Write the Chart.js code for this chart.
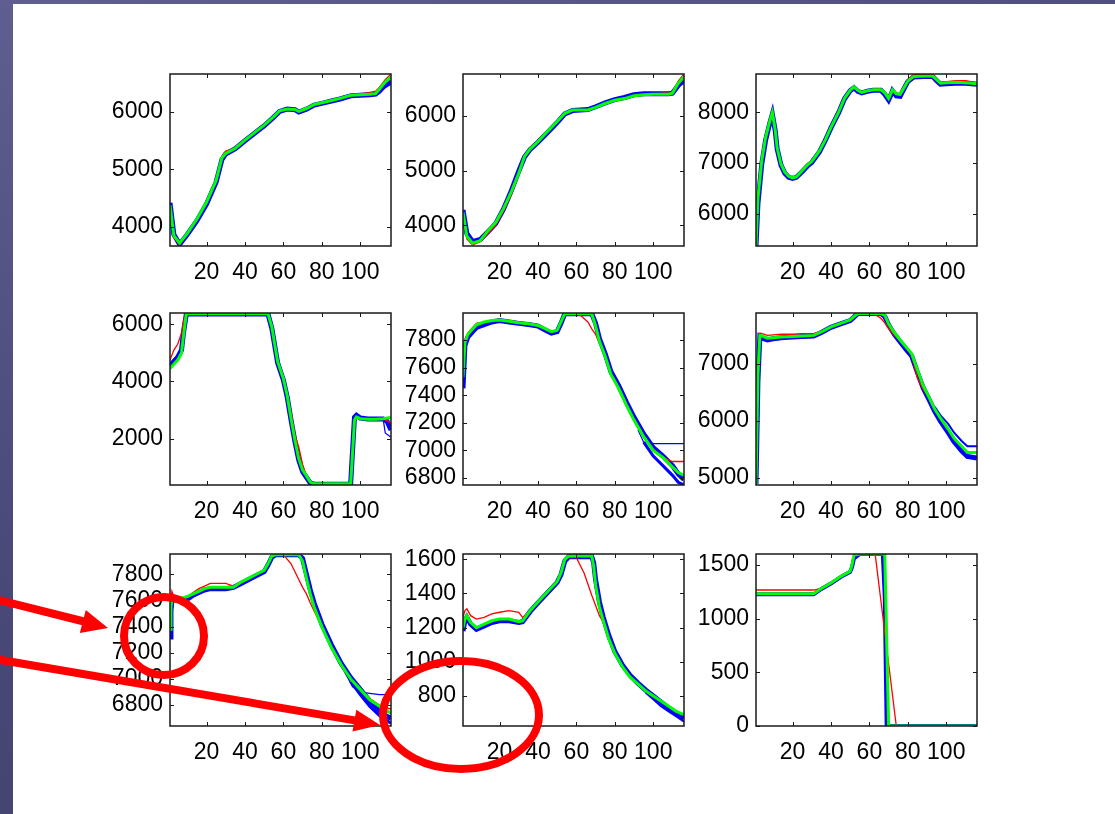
<!DOCTYPE html>
<html>
<head>
<meta charset="utf-8">
<script src="https://cdn.jsdelivr.net/npm/chart.js@4.4.0/dist/chart.umd.min.js"></script>
<style>
html, body { margin: 0; padding: 0; width: 1115px; height: 814px; overflow: hidden; }
body { position: relative; background: linear-gradient(160deg, #605e90 0%, #4b4979 45%, #3e3c64 100%); }
#sheet { position: absolute; left: 13px; top: 4px; right: 0; bottom: 0; background: #fff; }
canvas.plot { position: absolute; }
#marks { position: absolute; left: 0; top: 0; }
</style>
</head>
<body>
<div id="sheet"></div>
<svg id="marks" width="1115" height="814">
  <g stroke="#ff0000" fill="none" stroke-width="8">
    <ellipse cx="164" cy="636" rx="40" ry="39"/>
    <ellipse cx="461" cy="715" rx="78" ry="54"/>
    <line x1="-5" y1="599" x2="84" y2="621.5"/>
    <line x1="-5" y1="659" x2="356" y2="720.6"/>
  </g>
  <polygon fill="#ff0000" points="108,628 79.8,633.1 85.8,609.9"/>
  <polygon fill="#ff0000" points="380,725 352.5,731.4 356.3,709.8"/>
</svg>
<script>
// x ticks shared by every panel
var xTicks = [20, 40, 60, 80, 100];

// panel 1
var p1x = [1,3,6,10,15,20,25,28,30,35,40,45,50,55,58,62,66,68,72,76,80,85,90,95,100,105,108,110,113,116];
var p1blue = [4420,3870,3700,3870,4110,4400,4780,5170,5270,5360,5500,5630,5760,5910,6010,6050,6040,6000,6050,6120,6150,6190,6230,6280,6290,6300,6310,6360,6470,6540];
var p1red = [4350,3820,3690,3880,4150,4450,4840,5230,5320,5370,5500,5640,5770,5920,6020,6050,6050,6020,6070,6140,6170,6210,6250,6300,6310,6340,6360,6430,6560,6660];
var p1green = [4380,3850,3720,3890,4140,4430,4810,5200,5280,5370,5510,5640,5770,5920,6020,6050,6045,6010,6060,6130,6160,6200,6240,6290,6300,6310,6320,6400,6520,6610];
var p1blue2x = [90,95,100,105,108,110,113,116];
var p1blue2 = [6260,6310,6320,6330,6330,6350,6420,6480];
var p1yTicks = [4000, 5000, 6000];

// panel 2
var p2x = [1,3,6,10,14,18,22,26,30,33,36,40,45,50,54,58,62,66,70,75,80,85,90,95,100,105,108,110,113,116];
var p2blue = [4280,3850,3700,3740,3880,4030,4290,4620,4990,5250,5390,5520,5700,5880,6040,6100,6110,6120,6170,6240,6300,6340,6390,6410,6410,6410,6410,6420,6560,6650];
var p2red = [4200,3750,3640,3700,3850,4000,4250,4550,4920,5250,5420,5540,5720,5900,6050,6110,6110,6110,6160,6230,6280,6310,6360,6380,6400,6420,6420,6450,6640,6770];
var p2green = [4240,3800,3670,3720,3900,4050,4300,4600,4950,5260,5400,5530,5720,5900,6050,6110,6110,6110,6160,6230,6290,6320,6370,6390,6400,6400,6400,6420,6600,6720];
var p2yTicks = [4000, 5000, 6000];

// panel 3
var p3x = [1,2,4,6,8,9.5,11,12,14,16,18,20,22,25,28,30,34,37,40,44,47,50,52,54,56,59,62,66,68,70,71,72,74,76,78,80,83,88,93,95,97,100,105,110,116];
var p3blue = [5370,6200,6980,7450,7760,7960,7640,7280,6960,6800,6720,6700,6720,6830,6950,7010,7220,7440,7690,7990,8260,8420,8480,8410,8380,8410,8430,8430,8350,8240,8320,8420,8320,8310,8460,8600,8690,8700,8700,8620,8550,8560,8570,8570,8550];
var p3red = [5370,6350,7100,7550,7850,8030,7680,7320,7000,6830,6750,6720,6740,6860,6990,7050,7260,7460,7710,8010,8280,8440,8500,8440,8400,8430,8450,8450,8400,8300,8380,8450,8380,8370,8500,8640,8740,8750,8740,8660,8590,8600,8620,8620,8580];
var p3green = [5370,6300,7050,7500,7800,7990,7650,7300,6980,6820,6740,6710,6730,6850,6970,7030,7240,7450,7700,8000,8270,8430,8500,8430,8390,8420,8440,8440,8380,8270,8350,8440,8360,8350,8480,8610,8700,8710,8710,8640,8570,8580,8590,8580,8560];
var p3yTicks = [6000, 7000, 8000];

// panel 4
var p4x = [1,3,5,7,8,9.5,15,20,30,40,50,52,54,57,60,62,64,66,68,70,72,74,76,80,85,90,95,96,97,98,100,104,108,112,114,116];
var p4blue = [4550,4700,4850,5100,5700,6360,6360,6360,6360,6360,6360,6360,5850,4650,4050,3450,2650,1900,1250,850,650,450,410,410,410,410,410,1600,2750,2820,2720,2690,2690,2690,2600,2300];
var p4red = [4750,5100,5300,5700,6100,6380,6380,6380,6380,6380,6380,6380,5950,4750,4150,3600,2900,2150,1700,1100,700,480,420,420,420,420,420,1450,2600,2720,2690,2680,2690,2690,2620,2550];
var p4green = [4450,4600,4750,5000,5600,6370,6370,6370,6370,6370,6370,6370,5900,4700,4100,3500,2700,1950,1300,900,700,480,420,420,420,420,420,1500,2650,2760,2700,2680,2680,2700,2720,2740];
var p4blue2x = [100,104,108,112,113,116];
var p4blue2 = [2720,2700,2700,2650,2200,2050];
var p4yTicks = [2000, 4000, 6000];

// panel 5
var p5x = [1,2,3.5,6,8,12,16,20,25,30,36,40,44,47,50,52,54,58,62,66,68,70,72,75,78,82,86,90,95,100,105,110,113,116];
var p5blue = [7450,7760,7820,7860,7890,7910,7930,7940,7930,7920,7910,7900,7870,7850,7860,7920,7990,7990,7990,7990,7990,7920,7810,7700,7570,7470,7350,7240,7120,7020,6960,6890,6830,6790];
var p5red = [7600,7800,7850,7890,7920,7930,7940,7950,7940,7930,7920,7905,7880,7860,7870,7930,7990,7990,7980,7930,7880,7840,7780,7690,7560,7460,7340,7230,7110,7010,6950,6920,6920,6920];
var p5green = [7530,7780,7840,7880,7910,7930,7940,7945,7935,7925,7915,7905,7880,7860,7870,7930,7990,7990,7990,7990,7990,7900,7790,7680,7550,7450,7330,7220,7100,7000,6950,6880,6840,6820];
var p5blue2x = [92,95,100,105,110,116];
var p5blue2 = [7150,7060,7050,7050,7050,7050];
var p5blue3x = [95,100,105,110,113,116];
var p5blue3 = [7060,6960,6890,6820,6770,6750];
var p5yTicks = [6800, 7000, 7200, 7400, 7600, 7800];

// panel 6
var p6x = [1,2,3,5,7,10,14,20,25,31,35,40,45,50,52,54,58,62,66,68,70,73,76,79,82,85,88,91,94,97,101,104,108,111,116];
var p6blue = [4900,6700,7480,7440,7420,7440,7460,7470,7480,7490,7550,7640,7700,7760,7820,7885,7885,7885,7885,7830,7680,7520,7390,7260,7140,6850,6580,6380,6170,6000,5800,5640,5480,5380,5350];
var p6red = [4880,6900,7540,7520,7500,7510,7520,7520,7530,7530,7570,7650,7710,7770,7830,7885,7885,7885,7800,7720,7620,7500,7400,7280,7150,6750,6560,6400,6200,6040,5860,5700,5560,5460,5450];
var p6green = [4900,6800,7500,7480,7450,7460,7470,7480,7490,7500,7560,7650,7710,7770,7830,7885,7885,7885,7885,7850,7700,7550,7420,7300,7180,6900,6620,6420,6210,6050,5860,5700,5560,5450,5450];
var p6blue2x = [94,97,101,104,108,111,116];
var p6blue2 = [6250,6100,5950,5800,5650,5560,5560];
var p6yTicks = [5000, 6000, 7000];

// panel 7
var p7x = [1,1.5,2,3,5,8,10,13,16,19,22,26,30,34,38,42,46,50,52,54,56,60,64,68,70,72,74,76,80,85,90,95,100,105,110,113,116];
var p7blue = [7320,7520,7600,7610,7600,7600,7610,7640,7660,7680,7690,7690,7690,7700,7730,7760,7790,7820,7870,7930,7950,7950,7950,7950,7920,7800,7680,7580,7420,7260,7120,7010,6920,6830,6760,6720,6700];
var p7red = [7400,7600,7670,7630,7620,7620,7630,7660,7690,7710,7730,7730,7730,7710,7740,7770,7800,7830,7880,7940,7950,7950,7880,7760,7700,7650,7580,7520,7400,7240,7110,7000,6920,6850,6800,6780,6770];
var p7green = [7380,7550,7610,7620,7620,7620,7630,7650,7670,7690,7700,7700,7700,7700,7740,7770,7800,7830,7880,7940,7950,7950,7950,7950,7900,7770,7650,7550,7400,7240,7110,7000,6920,6840,6790,6760,6740];
var p7blue2x = [92,96,100,105,110,116];
var p7blue2 = [7050,6940,6900,6890,6880,6880];
var p7blue3x = [95,100,105,110,113,116];
var p7blue3 = [6980,6880,6790,6720,6690,6660];
var p7yTicks = [6800, 7000, 7200, 7400, 7600, 7800];

// panel 8
var p8x = [1,2,3,5,8,12,16,20,25,30,32,36,40,45,50,52,54,56,60,64,68,69,70,72,74,77,80,84,88,92,96,100,104,108,112,116];
var p8blue = [1180,1240,1260,1220,1190,1210,1230,1240,1240,1230,1235,1295,1345,1405,1465,1510,1590,1615,1615,1615,1615,1580,1480,1350,1260,1150,1060,980,920,875,835,800,765,730,700,670];
var p8red = [1260,1300,1310,1270,1250,1260,1280,1290,1300,1290,1260,1300,1350,1410,1470,1520,1600,1610,1610,1520,1390,1360,1330,1270,1230,1130,1050,970,910,870,830,800,770,740,710,690];
var p8green = [1200,1250,1270,1230,1200,1220,1240,1250,1250,1235,1240,1300,1350,1410,1470,1520,1600,1620,1620,1620,1620,1560,1450,1320,1240,1130,1050,970,910,870,830,800,770,740,710,690];
var p8blue2x = [96,100,104,108,112,116];
var p8blue2 = [820,780,740,710,680,650];
var p8yTicks = [800, 1000, 1200, 1400, 1600];

// panel 9
var p9x = [1,10,20,31,35,40,45,50,51,52,55,60,63,64,66,67,68,69,70,72,74,80,100,116];
var p9blue = [1225,1225,1225,1225,1275,1325,1385,1435,1480,1560,1600,1600,1600,1600,1600,1600,1200,0,0,0,0,0,0,0];
var p9green = [1230,1230,1230,1230,1280,1330,1390,1440,1500,1590,1600,1600,1600,1600,1600,1600,1600,800,0,0,0,0,0,0];
var p9redx = [1,31,35,40,45,50,51,52,55,63,74,116];
var p9red = [1265,1265,1280,1330,1390,1440,1500,1590,1600,1600,0,0];
var p9yTicks = [0, 500, 1000, 1500];

var tickFont = { family: "'Liberation Sans', Arial, sans-serif", size: 23 };

function line(xs, ys, color, width) {
    return {
        data: xs.map(function (x, i) { return { x: x, y: ys[i] }; }),
        borderColor: color,
        backgroundColor: 'transparent',
        borderWidth: width,
        pointRadius: 0,
        tension: 0,
        fill: false
    };
}

// box round the axes with inward tick marks, matlab style
var frame = {
    id: 'frame',
    afterDraw: function (chart) {
        var ctx = chart.ctx, a = chart.chartArea;
        var xs = chart.scales.x, ys = chart.scales.y;
        ctx.save();
        ctx.strokeStyle = '#1a1a1a';
        ctx.lineWidth = 1;
        ctx.beginPath();
        xs.ticks.forEach(function (t) {
            var px = Math.round(xs.getPixelForValue(t.value)) + 0.5;
            ctx.moveTo(px, a.bottom); ctx.lineTo(px, a.bottom - 4);
            ctx.moveTo(px, a.top); ctx.lineTo(px, a.top + 4);
        });
        ys.ticks.forEach(function (t) {
            var py = Math.round(ys.getPixelForValue(t.value)) + 0.5;
            ctx.moveTo(a.left, py); ctx.lineTo(a.left + 4, py);
            ctx.moveTo(a.right, py); ctx.lineTo(a.right - 4, py);
        });
        ctx.stroke();
        ctx.lineWidth = 1.5;
        ctx.strokeRect(a.left, a.top, a.right - a.left, a.bottom - a.top);
        ctx.restore();
    }
};

function plain(v) { return String(v); }

function panel(left, top, sets, yMin, yMax, yTicks) {
    var cv = document.createElement('canvas');
    cv.className = 'plot';
    cv.width = 304;
    cv.height = 218;
    cv.style.left = (left - 75) + 'px';
    cv.style.top = (top - 6) + 'px';
    document.body.insertBefore(cv, document.getElementById('marks'));
    new Chart(cv, {
        type: 'line',
        data: { datasets: sets },
        options: {
            responsive: false,
            animation: false,
            devicePixelRatio: 1,
            layout: { padding: { top: 6, right: 8, left: 0, bottom: 0 } },
            plugins: { legend: { display: false }, tooltip: { enabled: false } },
            scales: {
                x: {
                    type: 'linear', min: 1, max: 116,
                    grid: { display: false, drawTicks: false }, border: { display: false },
                    afterBuildTicks: function (s) { s.ticks = xTicks.map(function (v) { return { value: v }; }); },
                    afterFit: function (s) { s.height = 40; s.paddingLeft = 0; s.paddingRight = 0; },
                    ticks: { color: '#000', font: tickFont, padding: 13, maxRotation: 0, autoSkip: false, callback: plain }
                },
                y: {
                    min: yMin, max: yMax,
                    grid: { display: false, drawTicks: false }, border: { display: false },
                    afterBuildTicks: function (s) { s.ticks = yTicks.map(function (v) { return { value: v }; }); },
                    afterFit: function (s) { s.width = 75; s.paddingTop = 0; s.paddingBottom = 0; },
                    ticks: { color: '#000', font: tickFont, padding: 7, autoSkip: false, callback: plain }
                }
            }
        },
        plugins: [frame]
    });
}

var B = '#0000ff', R = '#ff0000', G = '#00ff00';

// first dataset is painted last (on top): green, then red, then blue
panel(170, 74, [line(p1x, p1green, G, 3), line(p1x, p1red, R, 1.3), line(p1x, p1blue, B, 5), line(p1blue2x, p1blue2, B, 1.2)], 3670, 6660, p1yTicks);
panel(463, 74, [line(p2x, p2green, G, 3), line(p2x, p2red, R, 1.3), line(p2x, p2blue, B, 5)], 3620, 6770, p2yTicks);
panel(756, 74, [line(p3x, p3green, G, 3), line(p3x, p3red, R, 1.3), line(p3x, p3blue, B, 5)], 5370, 8750, p3yTicks);

panel(170, 313, [line(p4x, p4green, G, 3), line(p4x, p4red, R, 1.3), line(p4x, p4blue, B, 5), line(p4blue2x, p4blue2, B, 1.2)], 380, 6395, p4yTicks);
panel(463, 313, [line(p5x, p5green, G, 3), line(p5x, p5red, R, 1.3), line(p5x, p5blue, B, 5), line(p5blue3x, p5blue3, B, 3), line(p5blue2x, p5blue2, B, 1.2)], 6750, 7995, p5yTicks);
panel(756, 313, [line(p6x, p6green, G, 3), line(p6x, p6red, R, 1.3), line(p6x, p6blue, B, 5), line(p6blue2x, p6blue2, B, 2)], 4880, 7892, p6yTicks);

panel(170, 554, [line(p7x, p7green, G, 3), line(p7x, p7red, R, 1.3), line(p7x, p7blue, B, 5), line(p7blue3x, p7blue3, B, 3), line(p7blue2x, p7blue2, B, 1.2)], 6640, 7955, p7yTicks);
panel(463, 554, [line(p8x, p8green, G, 3), line(p8x, p8red, R, 1.3), line(p8x, p8blue, B, 5), line(p8blue2x, p8blue2, B, 2)], 624, 1631, p8yTicks);
panel(756, 554, [line(p9x, p9green, G, 3), line(p9redx, p9red, R, 1.3), line(p9x, p9blue, B, 4)], 0, 1600, p9yTicks);
</script>
</body>
</html>
